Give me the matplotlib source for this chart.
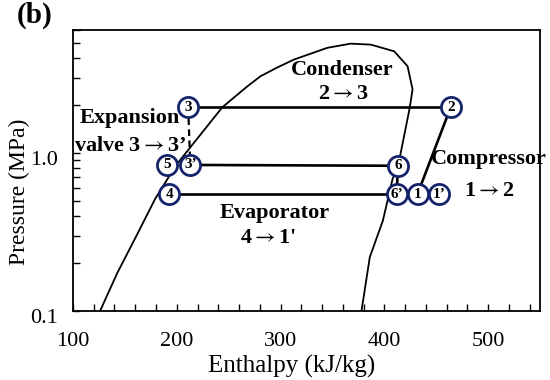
import matplotlib
matplotlib.use("Agg")
import matplotlib.pyplot as plt
import matplotlib.transforms as mtransforms
from matplotlib.ticker import FixedLocator, NullFormatter, FixedFormatter, LogLocator

plt.rcParams['font.family'] = ['Liberation Serif', 'DejaVu Serif']
plt.rcParams['mathtext.fontset'] = 'stix'

# Saturation dome (liquid side then vapor side)
dome_h = [126.1, 142.5, 161.8, 179.2, 199.5, 244, 268, 280.7, 297, 312.9, 345.1,
          367.6, 387, 409.5, 422.4, 427.2, 424.6, 413, 408, 398.6, 386, 378]
dome_p = [0.1, 0.173, 0.305, 0.513, 0.84, 1.95, 2.64, 3.06, 3.48, 3.90, 4.63,
          4.92, 4.85, 4.40, 3.54, 2.53, 1.95, 0.81, 0.687, 0.373, 0.219, 0.1]

# State points
state_labels = ['3', '2', '5', '3\u2019', '6', '4', '6\u2019', '1', '1\u2019']
state_h = [211, 464, 191, 213, 413, 193, 412, 432, 453]
state_p = [1.95, 1.95, 0.84, 0.84, 0.83, 0.55, 0.55, 0.55, 0.55]

# Cycle segments (pairs of state labels)
solid_segments = [('3', '2'), ('3\u2019', '6'), ('4', '6\u2019'), ('6', '6\u2019'), ('1', '2')]
dashed_segments = [('3', '3\u2019')]

xticks = [100, 200, 300, 400, 500]
yticks = [0.1, 1.0]
ytick_labels = ['0.1', '1.0']

navy = '#15236b'
ARROW = r'$\rightarrow$'

fig = plt.figure(figsize=(5.5, 3.8), dpi=100)
ax = fig.add_axes([0.1327, 0.1816, 0.8491, 0.7394])

ax.plot(dome_h, dome_p, color='black', lw=1.3, zorder=2)

idx = {l: i for i, l in enumerate(state_labels)}
for a, b in solid_segments:
    ax.plot([state_h[idx[a]], state_h[idx[b]]], [state_p[idx[a]], state_p[idx[b]]],
            color='black', lw=1.9, zorder=3, solid_capstyle='butt')
for a, b in dashed_segments:
    ax.plot([state_h[idx[a]], state_h[idx[b]]], [state_p[idx[a]], state_p[idx[b]]],
            color='black', lw=1.6, ls=(0, (3, 2)), zorder=3)

ax.scatter(state_h, state_p, s=14.5**2, facecolor='white', edgecolor=navy,
           linewidths=2.0, zorder=5)
for l, h, p in zip(state_labels, state_h, state_p):
    ax.text(h, p, l, ha='center', va='center', fontsize=11, fontweight='bold',
            color='black', zorder=6)

ax.set_yscale('log')
ax.set_xlim(100, 550)
ax.set_ylim(0.1, 6)

ax.xaxis.set_major_locator(FixedLocator(xticks))
ax.xaxis.set_minor_locator(FixedLocator(list(range(100, 551, 20))))
ax.yaxis.set_major_locator(FixedLocator(yticks))
ax.yaxis.set_major_formatter(FixedFormatter(ytick_labels))
ax.yaxis.set_minor_locator(LogLocator(base=10, subs=range(2, 10)))
ax.yaxis.set_minor_formatter(NullFormatter())

ax.tick_params(which='both', direction='in', length=5, width=1, top=False, right=False,
               labelsize=16)
ax.tick_params(axis='x', which='major', pad=15)
ax.tick_params(axis='y', which='major', pad=11)
offset = mtransforms.ScaledTranslation(0, -5 / 100, fig.dpi_scale_trans)
for lbl in ax.get_yticklabels():
    lbl.set_transform(lbl.get_transform() + offset)
for s in ax.spines.values():
    s.set_linewidth(1.3)

ax.set_xlabel('Enthalpy (kJ/kg)', fontsize=18)
ax.set_ylabel('Pressure (MPa)', fontsize=17)
ax.xaxis.set_label_coords(0.468, -0.155)
ax.yaxis.set_label_coords(-0.093, 0.424)

tk = dict(fontsize=16, fontweight='bold', ha='center', va='center', zorder=7)
ax.text(359, 3.37, 'Condenser', **tk)
ax.text(360, 2.35, '2' + ARROW + '3', **tk)
ax.text(294, 0.42, 'Evaporator', **tk)
ax.text(155, 1.66, 'Expansion', **tk)
ax.text(100.5, 1.1, 'valve 3' + ARROW + '3\u2019', fontsize=16, fontweight='bold',
        ha='left', va='center', zorder=7)
ax.text(288, 0.288, '4' + ARROW + '1\'', **tk)
ax.text(501, 0.92, 'Compressor', **tk)
ax.text(501, 0.577, '1' + ARROW + '2', **tk)

fig.text(0.03, 0.96, '(b)', fontsize=21, fontweight='bold', va='center', ha='left')

fig.savefig('out.png', dpi=100)
